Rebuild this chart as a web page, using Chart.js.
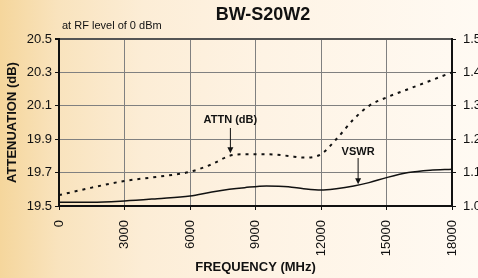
<!DOCTYPE html>
<html>
<head>
<meta charset="utf-8">
<script src="https://cdn.jsdelivr.net/npm/chart.js@4/dist/chart.umd.min.js"></script>
<style>
html,body{margin:0;padding:0;}
body{width:478px;height:278px;overflow:hidden;
  background:linear-gradient(to right,#f5d69c 0%,#f9e3bd 12%,#fcedd6 30%,#fef3e4 55%,#fffaf3 100%);}
canvas{display:block;}
</style>
</head>
<body>
<canvas id="c" width="478" height="278"></canvas>
<script>
/* ===== data ===== */
const freq  = [0, 1500, 3000, 4500, 6000, 7000, 7800, 8500, 9500, 10500, 11200, 12000, 12700, 13500, 14200, 15000, 16000, 17000, 18000];
const attn  = [19.565, 19.61, 19.65, 19.675, 19.705, 19.75, 19.80, 19.81, 19.81, 19.80, 19.79, 19.81, 19.90, 20.02, 20.10, 20.15, 20.20, 20.25, 20.30];
const vswr  = [1.011, 1.011, 1.015, 1.022, 1.03, 1.042, 1.05, 1.055, 1.06, 1.058, 1.052, 1.048, 1.052, 1.06, 1.07, 1.085, 1.10, 1.107, 1.11];
const xTicks = [0, 3000, 6000, 9000, 12000, 15000, 18000];

const FONT = "'Liberation Sans', Arial, sans-serif";
const pts = ys => freq.map((f,i)=>({x:f,y:ys[i]}));

/* ===== text + arrows ===== */
const extras = {
  id:"extras",
  afterDraw(chart){
    const ctx=chart.ctx, xs=chart.scales.x, yl=chart.scales.y, yr=chart.scales.y2;
    ctx.save();
    ctx.fillStyle="#111";
    ctx.font="bold 18px "+FONT; ctx.textAlign="center"; ctx.textBaseline="middle";
    ctx.fillText("BW-S20W2",263,15);
    ctx.font="11px "+FONT; ctx.textAlign="left";
    ctx.fillText("at RF level of 0 dBm",62,26);
    // annotations
    const arrow=(x,y1,y2)=>{
      ctx.strokeStyle="#111"; ctx.lineWidth=1;
      ctx.beginPath(); ctx.moveTo(x,y1); ctx.lineTo(x,y2-4); ctx.stroke();
      ctx.beginPath(); ctx.moveTo(x-3,y2-6); ctx.lineTo(x+3,y2-6); ctx.lineTo(x,y2); ctx.closePath(); ctx.fill();
    };
    ctx.font="bold 11px "+FONT; ctx.textAlign="center";
    const ax=xs.getPixelForValue(7850);
    ctx.fillText("ATTN (dB)",ax,120);
    arrow(ax,128,yl.getPixelForValue(19.81)-1);
    const vx=xs.getPixelForValue(13700);
    ctx.fillText("VSWR",vx,152);
    arrow(vx,158,yr.getPixelForValue(1.062)-1);
    ctx.restore();
  }
};

new Chart(document.getElementById("c"),{
  type:"line",
  data:{datasets:[
    {label:"ATTN (dB)",data:pts(attn),yAxisID:"y",borderColor:"#111",borderWidth:2,borderDash:[3,5],
     pointRadius:0,cubicInterpolationMode:"monotone",fill:false},
    {label:"VSWR",data:pts(vswr),yAxisID:"y2",borderColor:"#111",borderWidth:1.5,
     pointRadius:0,cubicInterpolationMode:"monotone",fill:false}
  ]},
  options:{
    responsive:false,animation:false,
    layout:{padding:{top:39,left:0,right:0,bottom:0}},
    plugins:{legend:{display:false},tooltip:{enabled:false}},
    scales:{
      x:{type:"linear",min:0,max:18000,
        afterBuildTicks:s=>{s.ticks=xTicks.map(v=>({value:v}));},
        afterFit:s=>{s.height=72;},
        ticks:{minRotation:90,maxRotation:90,padding:10,color:"#111",font:{size:13,family:FONT},callback:v=>String(v)},
        grid:{color:"#808080",lineWidth:1,tickLength:4,tickColor:"#111"},
        border:{color:"#111",width:2},
        title:{display:true,text:"FREQUENCY (MHz)",color:"#111",font:{size:13,weight:"bold",family:FONT},padding:{top:0,bottom:3}}
      },
      y:{position:"left",min:19.5,max:20.5,
        afterBuildTicks:s=>{s.ticks=[19.5,19.7,19.9,20.1,20.3,20.5].map(v=>({value:v}));},
        afterFit:s=>{s.width=59;},
        ticks:{padding:3,color:"#111",font:{size:13,family:FONT},callback:v=>v.toFixed(1)},
        grid:{color:c=>c.tick&&c.tick.value===20.5?"#555":"#808080",lineWidth:c=>c.tick&&c.tick.value===20.5?2:1,tickLength:4,tickColor:"#111"},
        border:{color:"#111",width:2},
        title:{display:true,text:"ATTENUATION (dB)",color:"#111",font:{size:13,weight:"bold",family:FONT},padding:{top:5,bottom:0}}
      },
      y2:{position:"right",min:1.0,max:1.5,
        afterBuildTicks:s=>{s.ticks=[1.0,1.1,1.2,1.3,1.4,1.5].map(v=>({value:v}));},
        afterFit:s=>{s.width=26;},
        ticks:{padding:7,color:"#111",font:{size:13,family:FONT},callback:v=>v.toFixed(1)},
        grid:{drawOnChartArea:false,tickLength:4,tickColor:"#111"},
        border:{color:"#111",width:2}
      }
    }
  },
  plugins:[extras]
});
</script>
</body>
</html>
